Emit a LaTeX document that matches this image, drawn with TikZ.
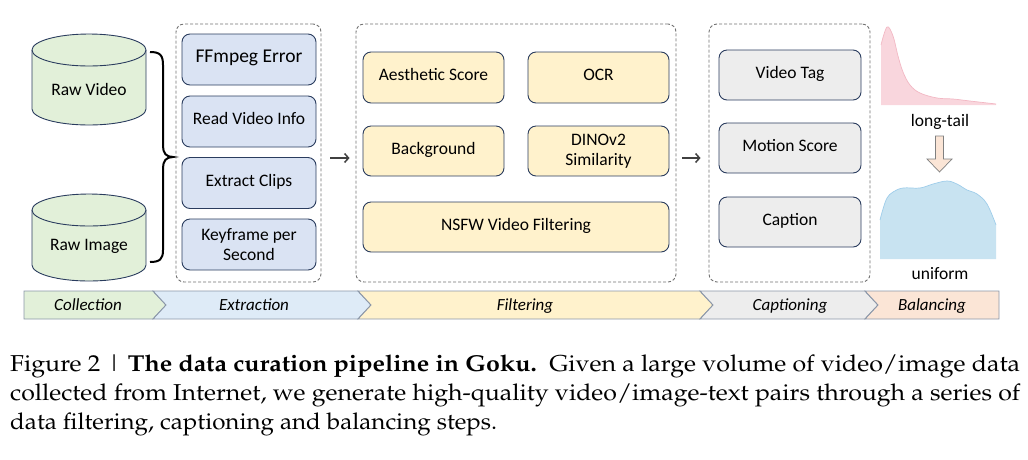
\documentclass[tikz,border=0pt]{standalone}
\usepackage[T1]{fontenc}
\usepackage{fontspec}
\setmainfont{Carlito}
\usepackage{graphicx}
\usetikzlibrary{arrows.meta}
\definecolor{navy}{HTML}{2A3C5E}
\definecolor{cylfill}{HTML}{E2F0D9}
\definecolor{bluefill}{HTML}{DAE3F3}
\definecolor{yelfill}{HTML}{FFF2CC}
\definecolor{grayfill}{HTML}{EDEDED}
\definecolor{peachfill}{HTML}{FBE5D6}
\definecolor{barblue}{HTML}{DEEBF7}
\definecolor{barstroke}{HTML}{8A96A8}
\definecolor{dashgray}{HTML}{707070}
\definecolor{pinkfill}{HTML}{F9D6DD}
\definecolor{pinkline}{HTML}{F2B8C4}
\definecolor{uniffill}{HTML}{C8E3F1}
\definecolor{unifline}{HTML}{9FCDEA}
\definecolor{arrgray}{HTML}{404040}
\newcommand\palfont{\fontencoding{T1}\fontfamily{ppl}\fontsize{23}{29}\selectfont}
\tikzset{
  cyl/.style={draw=navy, fill=cylfill, line width=0.9pt},
  stepbox/.style={draw=navy, line width=0.9pt, rounded corners=8pt, align=center,
    font=\fontsize{17.5}{20}\selectfont},
  oneline/.style={text height=0.63em, text depth=0pt},
  groupbox/.style={draw=dashgray, line width=0.9pt, dash pattern=on 3pt off 2pt, rounded corners=8pt, inner sep=0pt},
  flow/.style={draw=arrgray, line width=1.5pt, -{Straight Barb[length=4pt,width=9pt]}},
  barseg/.style={draw=barstroke, line width=0.9pt},
  barlabel/.style={anchor=base, font=\fontsize{17}{20}\selectfont\itshape},
  distlabel/.style={font=\fontsize{17.5}{20}\selectfont, text height=0.63em, text depth=0pt},
  capline/.style={anchor=base west, inner sep=0pt, font=\palfont}
}
\begin{document}
\begin{tikzpicture}[x=1pt,y=-1pt]
\useasboundingbox (0,0) rectangle (1028,459);

% cylinders
\draw[cyl] (32,50) -- (32,109) arc[start angle=180,end angle=0,x radius=57,y radius=16]
  -- (146,50) arc[start angle=0,end angle=-180,x radius=57,y radius=16] -- cycle;
\draw[navy, line width=0.9pt] (32,50) arc[start angle=180,end angle=0,x radius=57,y radius=16];
\node[font=\fontsize{17.5}{20}\selectfont, oneline] (rawvideo) at (89,92) {Raw Video};

\draw[cyl] (32,210) -- (32,265) arc[start angle=180,end angle=0,x radius=57,y radius=16]
  -- (146,210) arc[start angle=0,end angle=-180,x radius=57,y radius=16] -- cycle;
\draw[navy, line width=0.9pt] (32,210) arc[start angle=180,end angle=0,x radius=57,y radius=16];
\node[font=\fontsize{17.5}{20}\selectfont, oneline] (rawimage) at (89,247) {Raw Image};

% brace
\draw[black, line width=2pt] (150,52) .. controls (160,52) and (163,55) .. (163,65) -- (163,146)
  .. controls (163,153) and (166,157) .. (173,157)
  .. controls (166,157) and (163,161) .. (163,168) -- (163,250)
  .. controls (163,259) and (160,262) .. (150,262);

% group boxes
\node[groupbox, minimum width=145pt, minimum height=258pt] (ext) at (248.5,153) {};
\node[groupbox, minimum width=320pt, minimum height=258pt] (filt) at (516,153) {};
\node[groupbox, minimum width=161pt, minimum height=258pt] (capt) at (789.5,153) {};

% extraction
\node[stepbox, oneline, fill=bluefill, minimum width=134pt, minimum height=51pt, font=\fontsize{19.5}{22}\selectfont] (ffm) at (249,59.5) {FFmpeg Error};
\node[stepbox, oneline, fill=bluefill, minimum width=134pt, minimum height=51pt] (rvi) at (249,121.5) {Read Video Info};
\node[stepbox, oneline, fill=bluefill, minimum width=134pt, minimum height=51pt] (ecl) at (249,183) {Extract Clips};
\node[stepbox, fill=bluefill, minimum width=134pt, minimum height=51pt] (kps) at (249,244.5) {Keyframe per\\Second};

% filtering
\node[stepbox, oneline, fill=yelfill, minimum width=141pt, minimum height=51pt] (aes) at (433.5,77.5) {Aesthetic Score};
\node[stepbox, oneline, fill=yelfill, minimum width=141pt, minimum height=51pt] (ocr) at (598.5,77.5) {OCR};
\node[stepbox, oneline, fill=yelfill, minimum width=141pt, minimum height=50pt] (bg) at (433.5,151) {Background};
\node[stepbox, fill=yelfill, minimum width=141pt, minimum height=50pt] (dino) at (598.5,151) {DINOv2\\Similarity};
\node[stepbox, oneline, fill=yelfill, minimum width=306pt, minimum height=50pt] (nsfw) at (516,227) {NSFW Video Filtering};

% captioning
\node[stepbox, oneline, fill=grayfill, minimum width=142pt, minimum height=50pt] (vtag) at (790,75) {Video Tag};
\node[stepbox, oneline, fill=grayfill, minimum width=142pt, minimum height=50pt] (mot) at (790,148) {Motion Score};
\node[stepbox, oneline, fill=grayfill, minimum width=142pt, minimum height=50pt] (cap) at (790,222) {Caption};

% flow arrows
\coordinate (ay) at (0,158);
\draw[flow, shorten <=9pt, shorten >=6pt] (ext.east |- ay) -- (filt.west |- ay);
\draw[flow, shorten <=6pt, shorten >=8pt] (filt.east |- ay) -- (capt.west |- ay);

% balancing: long tail
\fill[pinkfill] (881,105) -- plot[smooth, tension=0.6] coordinates {(881,45) (887,27) (893,36) (898,56) (903,72) (910,85) (920,93) (937,98) (953,99) (970,101) (996,104)} -- (996,105) -- cycle;
\draw[pinkline, line width=0.7pt] plot[smooth, tension=0.6] coordinates {(881,45) (887,27) (893,36) (898,56) (903,72) (910,85) (920,93) (937,98) (953,99) (970,101) (996,104)};
\node[distlabel] (longtail) at (940,123) {long-tail};

\draw[fill=peachfill, draw=gray, line width=0.7pt] (935.5,136) -- (943.5,136) -- (943.5,159) -- (952,159) -- (939.5,172) -- (927,159) -- (935.5,159) -- cycle;

% uniform
\fill[uniffill] (880,259) -- plot[smooth, tension=0.6] coordinates {(880,220) (883,209) (887,198) (893,192) (903,188) (920,188) (933,184) (947,181) (957,184) (967,190) (977,194) (987,204) (996,225)} -- (996,259) -- cycle;
\draw[unifline, line width=0.7pt] plot[smooth, tension=0.6] coordinates {(880,220) (883,209) (887,198) (893,192) (903,188) (920,188) (933,184) (947,181) (957,184) (967,190) (977,194) (987,204) (996,225)};
\node[distlabel] (uniform) at (940,276) {uniform};

% stage bar
\draw[barseg, fill=cylfill] (24,291) -- (153,291) -- (166,305) -- (153,319) -- (24,319) -- cycle;
\draw[barseg, fill=barblue] (153,291) -- (358,291) -- (371,305) -- (358,319) -- (153,319) -- (166,305) -- cycle;
\draw[barseg, fill=yelfill] (358,291) -- (700,291) -- (713,305) -- (700,319) -- (358,319) -- (371,305) -- cycle;
\draw[barseg, fill=grayfill] (700,291) -- (865,291) -- (878,305) -- (865,319) -- (700,319) -- (713,305) -- cycle;
\draw[barseg, fill=peachfill] (865,291) -- (999,291) -- (999,319) -- (865,319) -- (878,305) -- cycle;
\node[barlabel] (lcol) at (88,310.5) {Collection};
\node[barlabel] (lext) at (254,310.5) {Extraction};
\node[barlabel] (lfil) at (525,310.5) {Filtering};
\node[barlabel] (lcap) at (790,310.5) {Captioning};
\node[barlabel] (lbal) at (932,310.5) {Balancing};

% caption
\node[capline] (cap1) at (10,371) {\resizebox{1010pt}{\height}{Figure 2 | \textbf{The data curation pipeline in Goku.}\ \ Given a large volume of video/image data}};
\node[capline] (cap2) at (10,400) {\resizebox{1010pt}{\height}{collected from Internet, we generate high-quality video/image-text pairs through a series of}};
\node[capline] (cap3) at (10,429) {\resizebox{487pt}{\height}{data filtering, captioning and balancing steps.}};
\end{tikzpicture}
\end{document}
